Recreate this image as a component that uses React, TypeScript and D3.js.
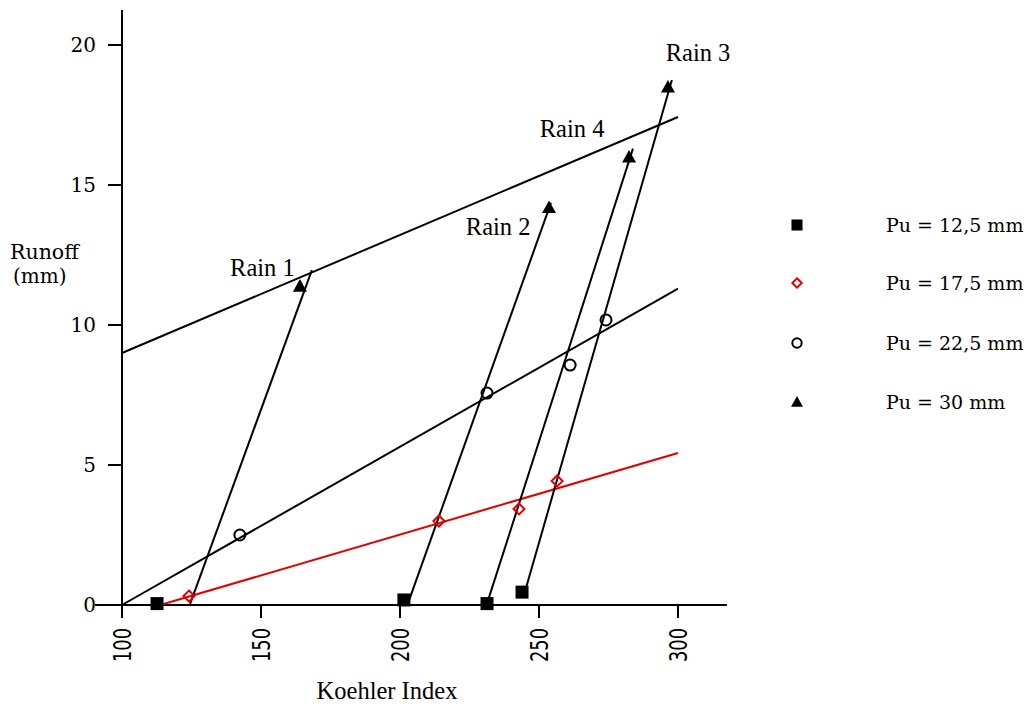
import React from 'react';
import * as d3 from 'd3';

// Koehler index vs runoff, one series per Pu
const sq125X = [112.6, 201.4, 231.3, 243.9];
const sq125Y = [0.05, 0.18, 0.05, 0.46];
const dm175X = [124.1, 214.0, 242.8, 256.5];
const dm175Y = [0.32, 3.0, 3.43, 4.43];
const ci225X = [142.4, 231.3, 261.2, 274.1];
const ci225Y = [2.5, 7.57, 8.57, 10.18];
const tr30X = [164.0, 253.6, 282.4, 296.4];
const tr30Y = [11.39, 14.2, 16.0, 18.5];

// fitted lines per Pu: [x0, y0, x1, y1]
const puLines = [
  { key: '17.5', seg: [113.7, 0, 300, 5.43], color: '#e00000' },
  { key: '22.5', seg: [100, 0, 300, 11.3], color: '#000' },
  { key: '30', seg: [100, 9.0, 300, 17.43], color: '#000' },
];

// rain lines
const rainNames = ['Rain 1', 'Rain 2', 'Rain 4', 'Rain 3'];
const rainSegs = [
  [124.5, 0.04, 168.3, 11.96],
  [202.9, 0.07, 254.3, 14.36],
  [231.3, 0.05, 283.8, 16.3],
  [244.6, 0.36, 297.8, 18.75],
];
const rainLabelX = [150.5, 235.3, 261.9, 307.2];
const rainLabelY = [12.05, 13.5, 17.0, 19.7];

const xTicks = [100, 150, 200, 250, 300];
const yTicks = [0, 5, 10, 15, 20];
const legendLabels = ['Pu = 12,5 mm', 'Pu = 17,5 mm', 'Pu = 22,5 mm', 'Pu = 30 mm'];

const serif = 'DejaVu Serif';
const times = 'Liberation Serif';

const Marker = ({ type, cx, cy, s = 1 }) => {
  if (type === 'square') {
    const h = 6.5 * s;
    return <rect x={cx - h} y={cy - h} width={2 * h} height={2 * h} fill="#000" />;
  }
  if (type === 'diamond') {
    const h = 5.5 * s;
    return (
      <path
        d={`M${cx},${cy - h}L${cx + h},${cy}L${cx},${cy + h}L${cx - h},${cy}Z`}
        fill="none"
        stroke="#e00000"
        strokeWidth={2}
      />
    );
  }
  if (type === 'circle') {
    return <circle cx={cx} cy={cy} r={5.5 * s} fill="none" stroke="#000" strokeWidth={2} />;
  }
  const h = 7 * s;
  return <path d={`M${cx},${cy - h}L${cx + h},${cy + h * 0.8}L${cx - h},${cy + h * 0.8}Z`} fill="#000" />;
};

export default function App() {
  const width = 1031;
  const height = 704;
  const x = d3.scaleLinear().domain([100, 300]).range([122, 678]);
  const y = d3.scaleLinear().domain([0, 20]).range([605, 45]);

  const series = [
    { type: 'square', xs: sq125X, ys: sq125Y },
    { type: 'diamond', xs: dm175X, ys: dm175Y },
    { type: 'circle', xs: ci225X, ys: ci225Y },
    { type: 'triangle', xs: tr30X, ys: tr30Y },
  ];
  const legendY = [225, 283, 343, 402];

  return (
    <svg width={width} height={height} style={{ position: 'absolute', left: 0, top: 0, background: '#fff' }}>
      {/* axes */}
      <line x1={x(90.3)} x2={x(317.6)} y1={y(0)} y2={y(0)} stroke="#000" strokeWidth={2} />
      <line x1={x(100)} x2={x(100)} y1={y(21.25)} y2={y(0)} stroke="#000" strokeWidth={2} />
      {yTicks.map(t => (
        <g key={'y' + t}>
          <line x1={x(100) - 14} x2={x(100)} y1={y(t)} y2={y(t)} stroke="#000" strokeWidth={2} />
          <text x={x(100) - 26} y={y(t) + 7} textAnchor="end" fontFamily={serif} fontSize={20}>
            {t}
          </text>
        </g>
      ))}
      {xTicks.map(t => (
        <g key={'x' + t}>
          <line x1={x(t)} x2={x(t)} y1={y(0)} y2={y(0) + 13} stroke="#000" strokeWidth={2} />
          <text
            transform={`translate(${x(t) + 9},${y(0) + 23}) rotate(-90)`}
            textAnchor="end"
            fontFamily="DejaVu Sans"
            fontSize={25}
            textLength={34}
            lengthAdjust="spacingAndGlyphs"
          >
            {t}
          </text>
        </g>
      ))}
      <text x={387} y={699} textAnchor="middle" fontFamily={times} fontSize={24.5}>
        Koehler Index
      </text>
      <text x={10} y={259} fontFamily={serif} fontSize={20.5}>
        Runoff
      </text>
      <text x={13} y={283} fontFamily={serif} fontSize={20}>
        (mm)
      </text>

      {/* fitted lines */}
      {puLines.map(l => (
        <line
          key={l.key}
          x1={x(l.seg[0])}
          y1={y(l.seg[1])}
          x2={x(l.seg[2])}
          y2={y(l.seg[3])}
          stroke={l.color}
          strokeWidth={2}
        />
      ))}
      {rainSegs.map((s, i) => (
        <line key={rainNames[i]} x1={x(s[0])} y1={y(s[1])} x2={x(s[2])} y2={y(s[3])} stroke="#000" strokeWidth={2} />
      ))}
      {rainNames.map((n, i) => (
        <text
          key={'l' + n}
          x={x(rainLabelX[i])}
          y={y(rainLabelY[i]) + 8}
          textAnchor="middle"
          fontFamily={times}
          fontSize={24.5}
        >
          {n}
        </text>
      ))}

      {/* points */}
      {series.map(s =>
        s.xs.map((v, i) => <Marker key={s.type + i} type={s.type} cx={x(v)} cy={y(s.ys[i])} />)
      )}

      {/* legend */}
      {series.map((s, i) => (
        <g key={'lg' + i}>
          <Marker type={s.type} cx={797} cy={legendY[i]} s={0.85} />
          <text x={886} y={legendY[i] + 7} fontFamily={serif} fontSize={19}>
            {legendLabels[i]}
          </text>
        </g>
      ))}
    </svg>
  );
}
